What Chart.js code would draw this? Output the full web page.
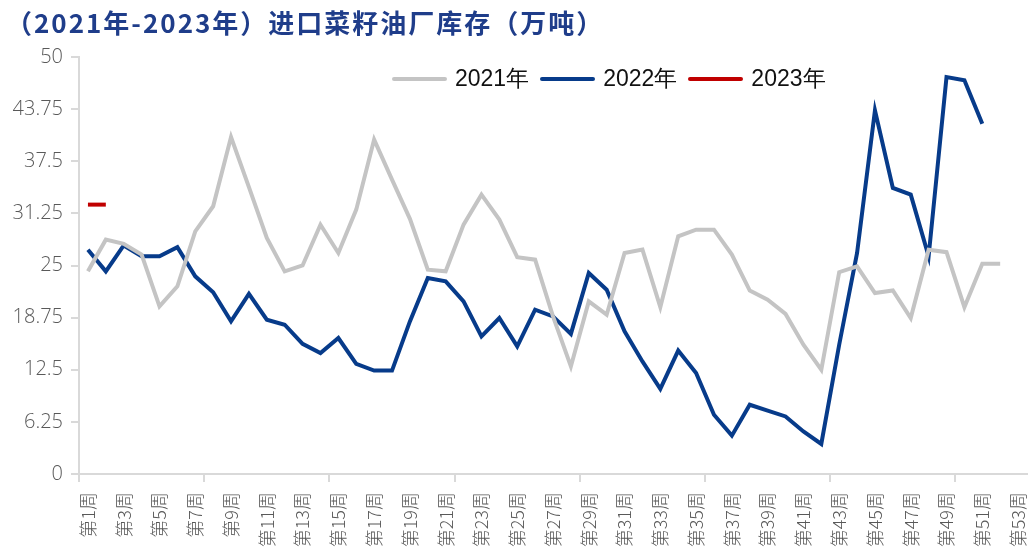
<!DOCTYPE html>
<html>
<head>
<meta charset="utf-8">
<script src="https://cdn.jsdelivr.net/npm/chart.js@4"></script>
<style>
  html, body { margin: 0; padding: 0; background: #fff; }
  #wrap { position: relative; width: 1032px; height: 560px; }
  #title {
    position: absolute; left: 6px; top: 3px; letter-spacing: 2px;
    font-family: "Noto Sans CJK SC", "Noto Sans", sans-serif;
    font-size: 26px; font-weight: bold; color: #1f3d8a; white-space: nowrap;
  }
  #legend {
    position: absolute; left: 392px; top: 63px; display: flex; align-items: center;
    font-family: "Liberation Sans", Arial, sans-serif; font-size: 23px; color: #111;
  }
  #legend .item { display: flex; align-items: center; margin-right: 11px; }
  #legend .swatch { width: 55px; height: 4px; margin-right: 8px; border-radius: 2px; }
</style>
</head>
<body>
<div id="wrap">
  <canvas id="chart" width="1032" height="560"></canvas>
  <div id="title">（2021年-2023年）进口菜籽油厂库存（万吨）</div>
  <div id="legend"></div>
</div>
<script>
// --- Data ---
const weeks = [];
for (let i = 1; i <= 53; i++) weeks.push('第' + i + '周');

const yTicks = [0, 6.25, 12.5, 18.75, 25, 31.25, 37.5, 43.75, 50];

const seriesNames = ['2021年', '2022年', '2023年'];

const values2021 = [
  24.3, 28.1, 27.6, 26.3, 20.1, 22.5, 29.1, 32.1, 40.4, 34.4,
  28.3, 24.3, 25.0, 29.9, 26.5, 31.7, 40.1, 35.3, 30.6, 24.5,
  24.3, 29.9, 33.5, 30.5, 26.0, 25.7, 18.9, 12.9, 20.7, 19.1,
  26.5, 26.9, 20.0, 28.5, 29.3, 29.3, 26.3, 22.0, 20.9, 19.2,
  15.5, 12.5, 24.2, 24.9, 21.7, 22.0, 18.7, 26.9, 26.6, 20.0,
  25.2, 25.2, null
];

const values2022 = [
  26.9, 24.3, 27.4, 26.1, 26.1, 27.2, 23.7, 21.8, 18.3, 21.6,
  18.5, 17.9, 15.6, 14.5, 16.3, 13.2, 12.4, 12.4, 18.3, 23.5,
  23.1, 20.7, 16.5, 18.7, 15.3, 19.7, 18.9, 16.8, 24.1, 22.1,
  17.1, 13.5, 10.2, 14.8, 12.1, 7.1, 4.6, 8.3, 7.6, 6.9,
  5.1, 3.6, 15.5, 26.5, 43.6, 34.3, 33.5, 26.1, 47.6, 47.2,
  42.0, null, null
];

const values2023 = [32.3, 32.3];

const colors = ['#c4c4c4', '#073b8a', '#c00000'];

// --- Legend (HTML) ---
const legendEl = document.getElementById('legend');
seriesNames.forEach((name, i) => {
  const item = document.createElement('div');
  item.className = 'item';
  item.innerHTML = `<span class="swatch" style="background:${colors[i]}"></span><span>${name}</span>`;
  legendEl.appendChild(item);
});

// --- Chart ---
const axisGrey = '#d9d9d9';
const ctx = document.getElementById('chart').getContext('2d');
new Chart(ctx, {
  type: 'line',
  data: {
    labels: weeks,
    datasets: [
      { label: seriesNames[0], data: values2021, borderColor: colors[0] },
      { label: seriesNames[1], data: values2022, borderColor: colors[1] },
      { label: seriesNames[2], data: values2023, borderColor: colors[2] }
    ].map(ds => Object.assign(ds, {
      borderWidth: 4, pointRadius: 0, tension: 0, fill: false,
      borderJoinStyle: 'miter', spanGaps: false
    }))
  },
  options: {
    responsive: false,
    animation: false,
    layout: { padding: { top: 57, right: 5, left: 0, bottom: 0 } },
    plugins: {
      legend: { display: false },
      tooltip: { enabled: false }
    },
    scales: {
      x: {
        offset: true,
        afterFit: (scale) => {
          scale.height = 86;
          // keep the rotated labels from shrinking the plot width
          scale.paddingLeft = 0;
          scale.paddingRight = 0;
        },
        grid: {
          offset: true,
          drawOnChartArea: false,
          drawTicks: true,
          tickLength: 8,
          lineWidth: 2,
          color: (c) => (c.index % 7 === 0 ? axisGrey : 'rgba(0,0,0,0)')
        },
        border: { color: axisGrey, width: 2 },
        ticks: {
          autoSkip: false,
          maxRotation: 90,
          minRotation: 90,
          padding: 10,
          color: '#595959',
          font: { family: '"Noto Sans CJK SC", "Noto Sans", sans-serif', size: 18, weight: 300 },
          callback: function (value, index) {
            return index % 2 === 0 ? this.getLabelForValue(value) : '';
          }
        }
      },
      y: {
        min: 0,
        max: 50,
        afterFit: (scale) => { scale.width = 79; },
        afterBuildTicks: (scale) => { scale.ticks = yTicks.map(v => ({ value: v })); },
        grid: {
          drawOnChartArea: false,
          drawTicks: true,
          tickLength: 8,
          lineWidth: 2,
          color: axisGrey
        },
        border: { color: axisGrey, width: 2 },
        ticks: {
          padding: 8,
          color: '#595959',
          font: { family: '"Open Sans", "Noto Sans", sans-serif', size: 20, weight: 300 },
          callback: (v) => String(v)
        }
      }
    }
  }
});
</script>
</body>
</html>
